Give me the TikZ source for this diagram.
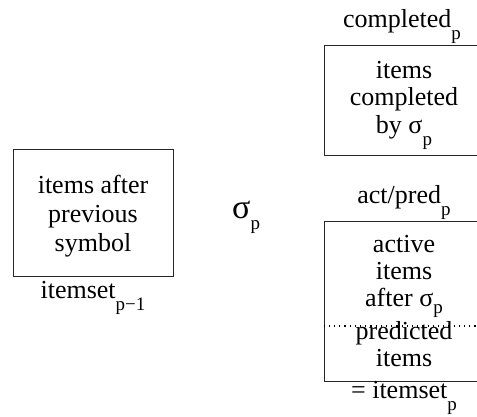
\documentclass[tikz,border=0pt]{standalone}
\usepackage{fontspec}
\setmainfont{Liberation Serif}
\newfontfamily\tms{Liberation Serif}
\newcommand\subsc[1]{\raisebox{-12pt}{\fontsize{19}{19}\selectfont #1}}
\newcommand\subsb[1]{\raisebox{-7pt}{\fontsize{19}{19}\selectfont #1}}
\begin{document}
\begin{tikzpicture}[x=1pt,y=-1pt,
  box/.style={draw=black!85, line width=0.9pt, inner sep=0pt, rectangle},
  txt/.style={anchor=base, inner sep=0pt, font=\tms\fontsize{26}{29}\selectfont},
  sigmatxt/.style={anchor=base west, inner sep=0pt, font=\tms\fontsize{34}{36}\selectfont}]
\useasboundingbox (0,0) rectangle (477,416);
\clip (0,0) rectangle (477,416);
% left box
\node[box, minimum width=160pt, minimum height=127pt] (prev) at (93,212.5) {};
\node[txt] (prev1) at (93,193) {items after};
\node[txt] (prev2) at (93,222) {previous};
\node[txt] (prev3) at (93,251) {symbol};
\node[txt] (prevlab) at (93,298) {itemset\subsc{p−1}};
% sigma
\node[sigmatxt] (sigma) at (232,218) {σ\raisebox{-11pt}{\fontsize{19}{19}\selectfont p}};
% top right box
\node[box, minimum width=160pt, minimum height=110pt] (compl) at (404,100) {};
\node[txt] (compllab) at (402,27) {completed\subsc{p}};
\node[txt] (compl1) at (404,78) {items};
\node[txt] (compl2) at (404,105) {completed};
\node[txt] (compl3) at (404,133) {by σ\subsc{p}};
% lower right box
\node[box, minimum width=160pt, minimum height=160pt] (act) at (404,301) {};
\node[txt] (actlab) at (404,203) {act/pred\subsc{p}};
\node[txt] (act1) at (404,252) {active};
\node[txt] (act2) at (404,279) {items};
\node[txt] (act3) at (404,306) {after σ\subsb{p}};
\node[txt] (act4) at (404,339) {predicted};
\node[txt] (act5) at (404,366) {items};
\node[txt] (actbot) at (404,398) {= itemset\subsc{p}};
\coordinate (dl) at (act.west |- 0,326);
\coordinate (dr) at (act.east |- 0,326);
\draw[line width=1.2pt, dash pattern=on 1.2pt off 4pt] (dl) -- (dr);
\end{tikzpicture}
\end{document}
